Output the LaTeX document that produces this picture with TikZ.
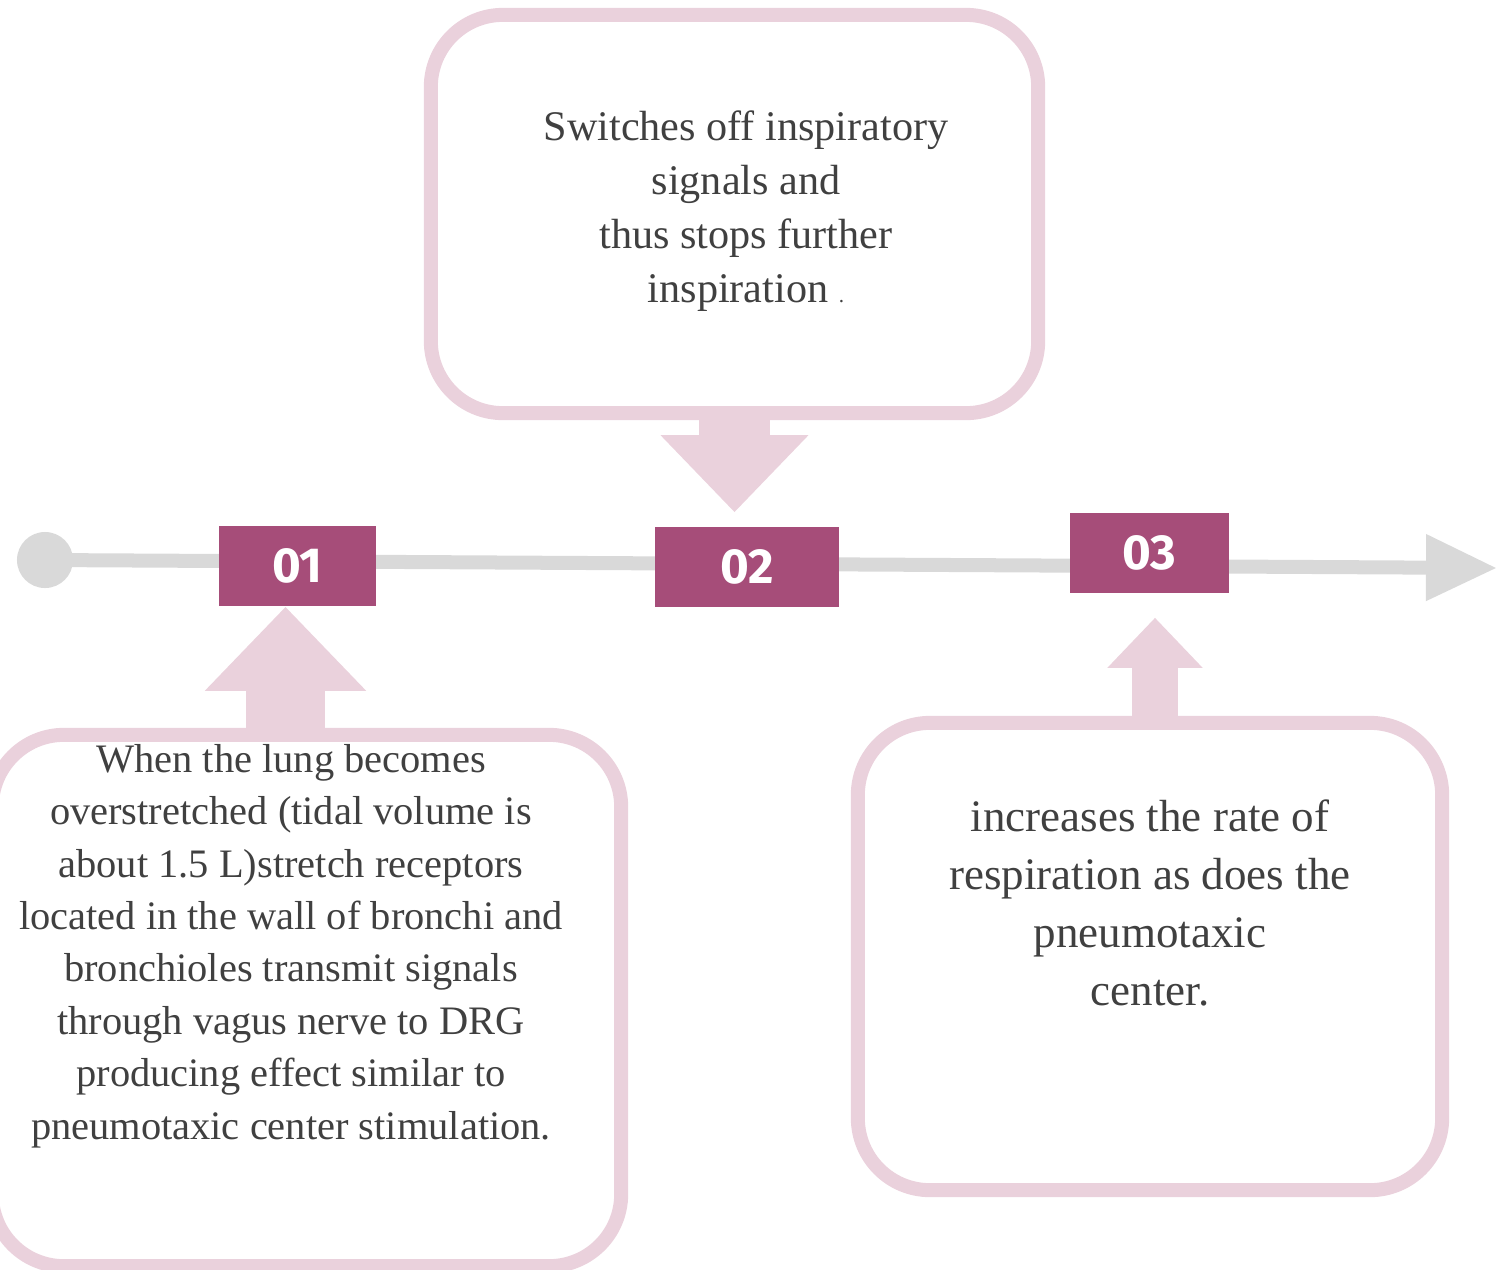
\documentclass[tikz,border=0pt]{standalone}
\usepackage{fontspec}
\setmainfont{Liberation Serif}
\newfontfamily\numfont{Fira Sans}
\usetikzlibrary{arrows.meta,calc}
\definecolor{tlgray}{HTML}{D9D9D9}
\definecolor{numpurple}{HTML}{A64D79}
\definecolor{softpink}{HTML}{EAD1DC}
\definecolor{txtgray}{HTML}{404040}
\begin{document}
\begin{tikzpicture}[x=0.01cm,y=-0.01cm,
  dot/.style={circle, fill=tlgray, draw=none, minimum size=0.56cm, inner sep=0pt},
  timeline/.style={draw=tlgray, line width=0.14cm, -{Triangle[length=0.71cm,width=0.63cm]}},
  numbox/.style={rectangle, fill=numpurple, draw=none, minimum height=0.8cm, inner sep=0pt, text=white,
    font=\numfont\bfseries\fontsize{14}{14}\selectfont},
  pinkbox/.style={rectangle, draw=softpink, line width=0.14cm, rounded corners=0.72cm, inner sep=0pt},
  blockarrow/.style={draw=softpink, line cap=butt},
  txt/.style={align=center, text=txtgray, inner sep=0pt}
]
\useasboundingbox (0,0) rectangle (1497,1269);
\clip (0,0) rectangle (1497,1269);

% timeline
\node[dot] (start) at (45,560) {};
\coordinate (end) at (1497,568);
\draw[timeline] (start.center) -- (end);

% numbered boxes
\node[numbox, minimum width=1.57cm] (n1) at (297.5,566) {01};
\node[numbox, minimum width=1.84cm] (n2) at (747,567) {02};
\node[numbox, minimum width=1.59cm] (n3) at (1149.5,553) {03};

% pink boxes
\node[pinkbox, minimum width=6.07cm, minimum height=3.98cm] (topbox) at (734.5,214) {};
\node[pinkbox, minimum width=6.29cm, minimum height=5.31cm] (leftbox) at (306.5,1000.5) {};
\node[pinkbox, minimum width=5.84cm, minimum height=4.67cm] (rightbox) at (1150,956.5) {};

% block arrows
\coordinate (tip1) at ([xshift=-0.12cm]n1.south);
\draw[blockarrow, line width=0.79cm, -{Triangle[length=0.84cm,width=1.56cm]}]
  (tip1 |- leftbox.north) -- (tip1);
\coordinate (tip2) at ([yshift=0.14cm]n2.north);
\draw[blockarrow, line width=0.71cm, -{Triangle[length=0.77cm,width=1.43cm]}]
  (topbox.south) -- (topbox.south |- tip2);
\coordinate (tip3) at ([xshift=0.055cm,yshift=-0.24cm]n3.south);
\draw[blockarrow, line width=0.46cm, -{Triangle[length=0.50cm,width=0.92cm]}]
  (tip3 |- rightbox.north) -- (tip3);

% texts
\node[txt, font=\fontsize{12}{15.4}\selectfont] (toptext) at (746,211)
  {Switches off inspiratory\\signals and\\thus stops further\\inspiration {\fontsize{6}{6}\selectfont .}};
\node[txt, font=\fontsize{11.5}{14.9}\selectfont] (lefttext) at (291,946)
  {When the lung becomes\\overstretched (tidal volume is\\about 1.5 L)stretch receptors\\located in the wall of bronchi and\\bronchioles transmit signals\\through vagus nerve to DRG\\producing effect similar to\\pneumotaxic center stimulation.};
\node[txt, font=\fontsize{12.8}{16.5}\selectfont] (righttext) at (1150,903)
  {increases the rate of\\respiration as does the\\pneumotaxic\\center.};
\end{tikzpicture}
\end{document}
